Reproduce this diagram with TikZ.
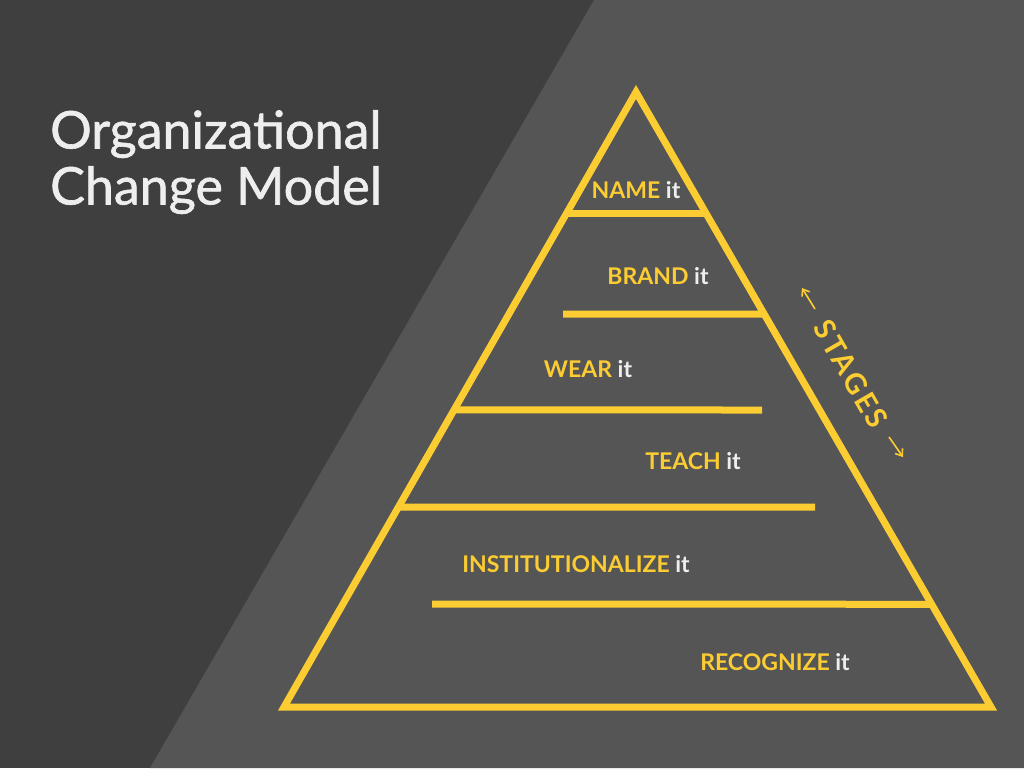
\documentclass[tikz,border=0pt]{standalone}
\usepackage{fontspec}
\setmainfont{Lato}
\newfontfamily\titlefont{Lato}[FakeBold=1.2]
\usetikzlibrary{positioning, calc, arrows.meta}
\definecolor{stageyellow}{HTML}{FCCD33}
\definecolor{darkbg}{HTML}{3F3F3F}
\definecolor{lightbg}{HTML}{555555}
\definecolor{offwhite}{HTML}{EEEEEE}
\newcommand{\stagetext}[1]{\textcolor{stageyellow}{#1} \textcolor{offwhite}{it}}

\begin{document}
\begin{tikzpicture}[x = 1pt, y = -1pt, line join = miter,
  stage/.style = {font = \fontsize{23}{27}\selectfont\bfseries, inner sep = 0pt},
  bar/.style = {draw = stageyellow, line width = 7pt}]
  % background
  \fill[darkbg] (0,0) rectangle (1024,768);
  \fill[lightbg] (594,0) -- (1024,0) -- (1024,768) -- (150,768) -- cycle;
  \useasboundingbox (0,0) rectangle (1024,768);

  % title
  \node (title) [anchor = north west, align = left, inner sep = 0pt, text = offwhite,
    font = \titlefont\fontsize{52}{56}\selectfont] at (50,110) {Organizational\\Change Model};

  % pyramid
  \coordinate (apex) at (636,92);
  \coordinate (baseleft) at (284,707);
  \coordinate (baseright) at (991,707);
  \draw[bar] (apex) -- (baseleft) -- (baseright) -- cycle;

  \draw[bar] ($(apex)!0.198!(baseleft)$) -- ($(apex)!0.198!(baseright)$);
  \draw[bar] (563,314) -- ($(apex)!0.361!(baseright)$);
  \draw[bar] ($(apex)!0.517!(baseleft)$) -- (762,410);
  \draw[bar] ($(apex)!0.675!(baseleft)$) -- (815,507);
  \draw[bar] (432,604) -- ($(apex)!0.833!(baseright)$);

  % stage labels
  \node (name) [stage] at (636,190) {\stagetext{NAME}};
  \node (brand) [stage] at (658,276) {\stagetext{BRAND}};
  \node (wear) [stage] at (588,369) {\stagetext{WEAR}};
  \node (teach) [stage] at (693,461) {\stagetext{TEACH}};
  \node (institutionalize) [stage] at (576,564) {\stagetext{INSTITUTIONALIZE}};
  \node (recognize) [stage] at (775,662) {\stagetext{RECOGNIZE}};

  % stages
  \node (stages) [rotate = -60, text = stageyellow, inner sep = 0pt,
    font = \fontsize{29}{32}\selectfont\bfseries\addfontfeature{LetterSpace = 10}] at (851,374) {STAGES};
  \coordinate (uptail) at (815,309);
  \coordinate (uphead) at (802,288);
  \coordinate (downtail) at (889,437);
  \coordinate (downhead) at (903,457);
  \draw[stageyellow, line width = 1.6pt, -{Straight Barb[length = 6pt, width = 9pt]}] (uptail) -- (uphead);
  \draw[stageyellow, line width = 1.6pt, -{Straight Barb[length = 6pt, width = 9pt]}] (downtail) -- (downhead);
\end{tikzpicture}
\end{document}
